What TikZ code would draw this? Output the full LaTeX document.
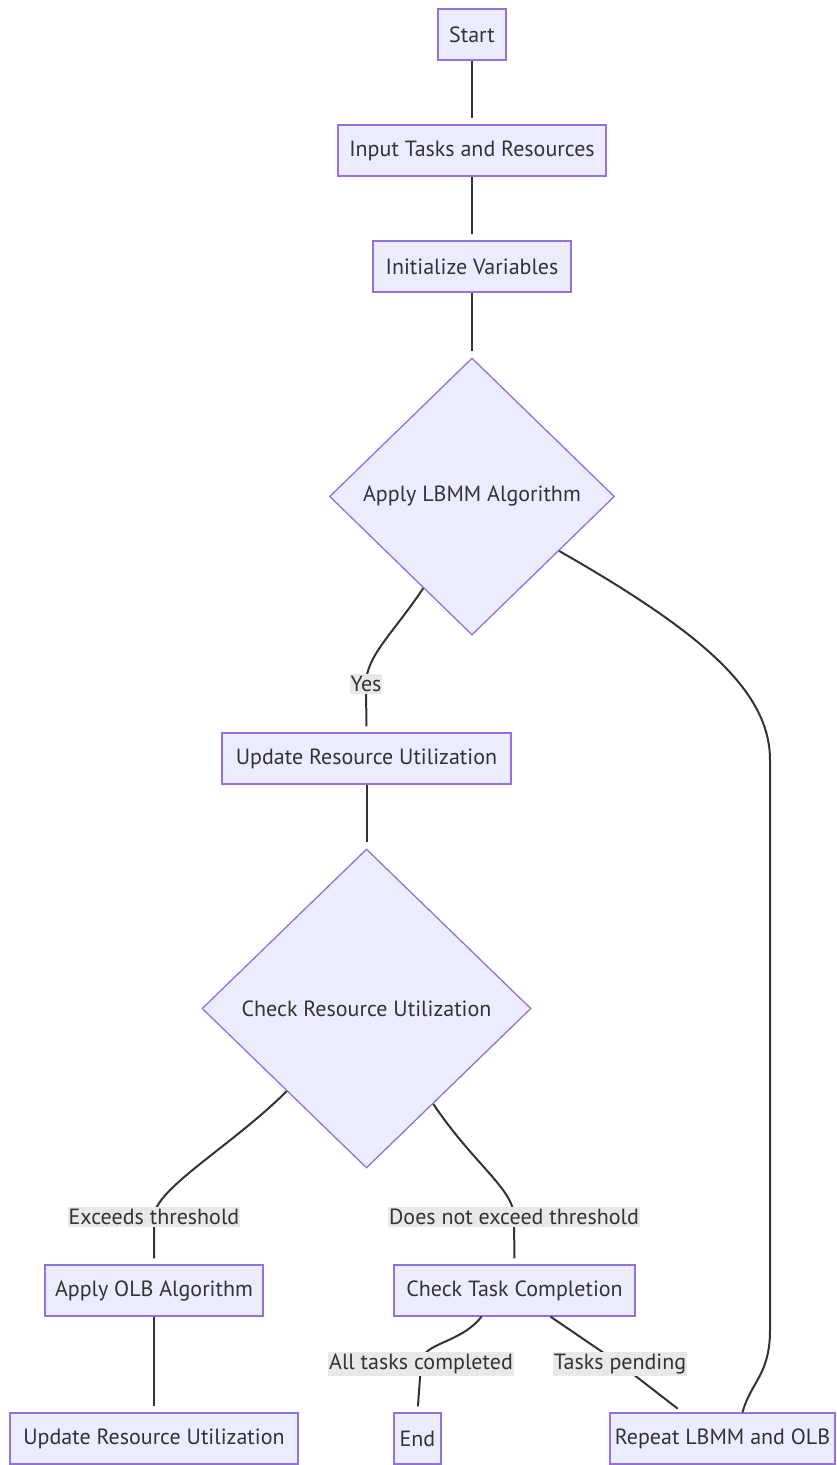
\documentclass[tikz,border=0pt]{standalone}
\usepackage{fontspec}
\setmainfont{PT Sans}
\usetikzlibrary{shapes.geometric}
\definecolor{boxfill}{HTML}{ECECFF}
\definecolor{boxline}{HTML}{9370DB}
\definecolor{ink}{HTML}{333333}
\definecolor{lblbg}{HTML}{E8E8E8}
\tikzset{
  proc/.style={draw=boxline, fill=boxfill, line width=1.3pt, text=ink,
    minimum height=51pt, inner sep=0pt, font=\fontsize{22}{24}\selectfont},
  decide/.style={diamond, draw=boxline, fill=boxfill, line width=1.3pt, text=ink,
    inner sep=0pt, font=\fontsize{22}{24}\selectfont},
  link/.style={draw=ink, line width=2pt},
  gap/.style={shorten >=6pt},
  lbl/.style={fill=lblbg, text=ink, inner xsep=1pt, inner ysep=2pt,
    font=\fontsize{22}{24}\selectfont}
}
\begin{document}
\begin{tikzpicture}[x=1pt, y=-1pt]
  \useasboundingbox (0,0) rectangle (836,1465);

  % process boxes and decisions
  \node[proc, minimum width=68pt]  (start) at (472,34.5) {Start};
  \node[proc, minimum width=268pt] (input) at (472,150.5) {Input Tasks and Resources};
  \node[proc, minimum width=198pt] (init)  at (472,266.5) {Initialize Variables};
  \node[decide, minimum width=285pt, minimum height=277pt] (lbmm) at (472,496.5) {Apply LBMM Algorithm};
  \node[proc, minimum width=289pt] (upd1)  at (366.5,758.5) {Update Resource Utilization};
  \node[decide, minimum width=329pt, minimum height=319pt] (chk) at (366.5,1008.5) {Check Resource Utilization};
  \node[proc, minimum width=218pt] (olb)   at (154,1290.5) {Apply OLB Algorithm};
  \node[proc, minimum width=241pt] (tc)    at (514.5,1290.5) {Check Task Completion};
  \node[proc, minimum width=288pt] (upd2)  at (154,1438.5) {Update Resource Utilization};
  \node[proc, minimum width=47pt]  (end)   at (417.5,1438.5) {End};
  \node[proc, minimum width=225pt] (rep)   at (722.5,1438.5) {Repeat LBMM and OLB};

  % label positions and waypoints
  \coordinate (yes) at (366,684);
  \coordinate (exc) at (154,1217);
  \coordinate (dne) at (514,1217);
  \coordinate (atc) at (421,1364);
  \coordinate (tp)  at (620,1364);
  \coordinate (rt1) at (770,760);
  \coordinate (rt2) at (770,1330);

  % connectors
  \draw[link, gap] (start.south) -- (input.north);
  \draw[link, gap] (input.south) -- (init.north);
  \draw[link, gap] (init.south) -- (lbmm.north);
  \draw[link, gap] (lbmm.-118) .. controls +(-30,45) and +(0,-28) .. (yes) -- (upd1.north);
  \draw[link] (lbmm.-32) .. controls +(140,80) and +(0,-70) .. (rt1) -- (rt2)
     .. controls +(0,45) and +(8,-30) .. ([xshift=20pt]rep.north);
  \draw[link, gap] (upd1.south) -- (chk.north);
  \draw[link, gap] (chk.-134) .. controls +(-55,55) and +(0,-28) .. (exc) -- (olb.north);
  \draw[link, gap] (chk.-55) .. controls +(40,60) and +(0,-28) .. (dne) -- (tc.north);
  \draw[link, gap] (olb.south) -- (upd2.north);
  \draw[link, gap] ([xshift=-33pt]tc.south) .. controls +(-22,28) and +(0,-22) .. (atc) -- (end.north);
  \draw[link, gap] ([xshift=36pt]tc.south) -- (tp) -- ([xshift=-40pt]rep.north);

  % edge labels
  \node[lbl] (yeslbl) at (yes) {Yes};
  \node[lbl] (exclbl) at (exc) {Exceeds threshold};
  \node[lbl] (dnelbl) at (dne) {Does not exceed threshold};
  \node[lbl] (atclbl) at (atc) {All tasks completed};
  \node[lbl] (tplbl)  at (tp)  {Tasks pending};
\end{tikzpicture}
\end{document}
